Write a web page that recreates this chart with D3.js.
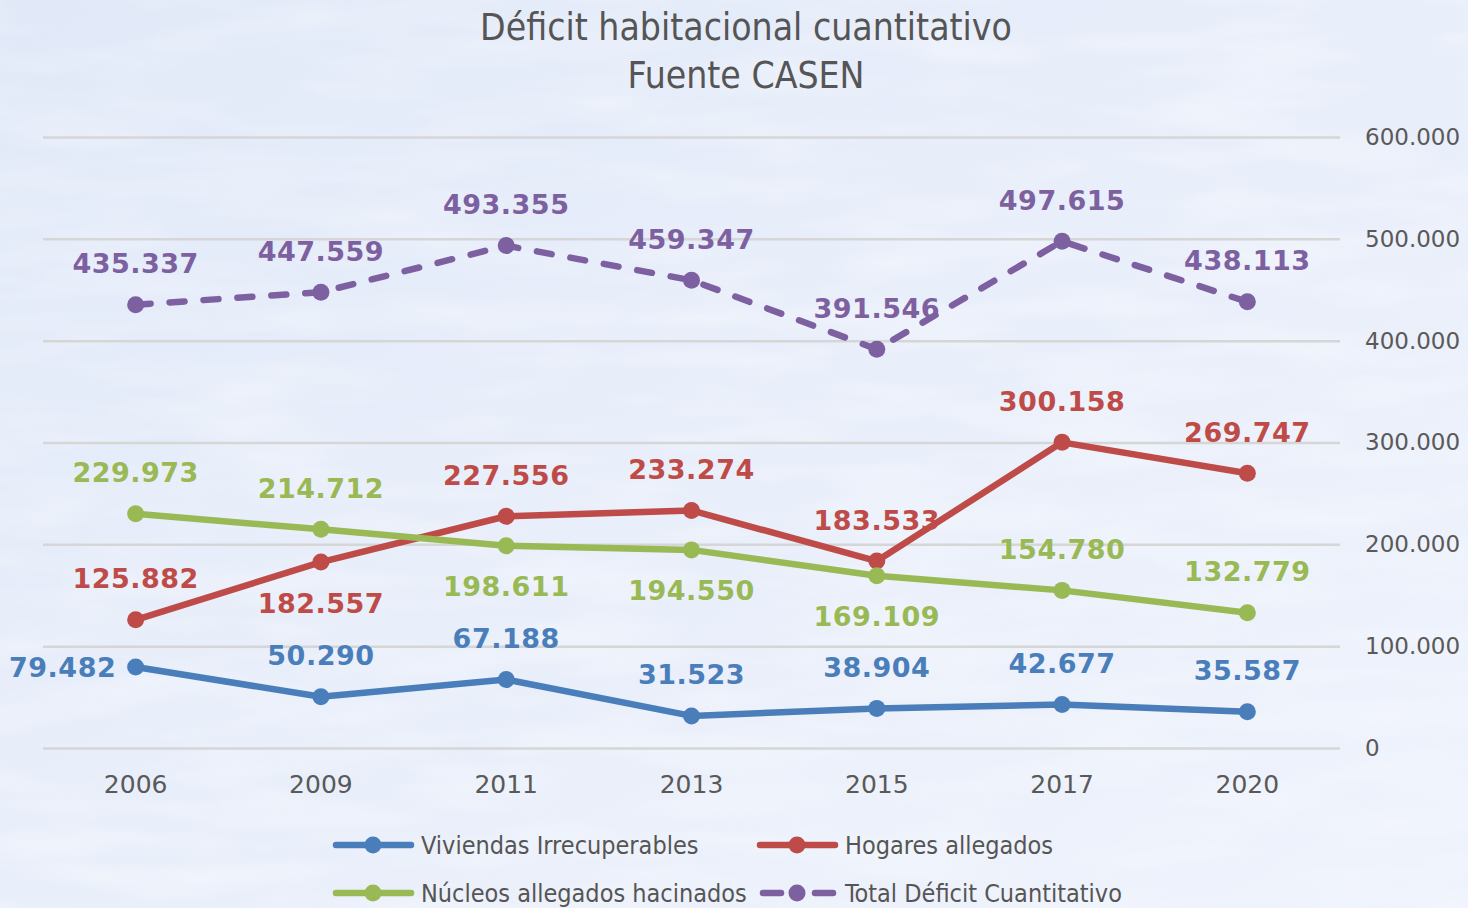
<!DOCTYPE html>
<html>
  <head>
    <meta charset="utf-8">
    <title>Déficit habitacional cuantitativo</title>
    <script src="https://d3js.org/d3.v7.min.js"></script>
    <style>
      html, body { margin: 0; padding: 0; background: #e8eefa; }
      svg { display: block; }
    </style>
  </head>
  <body>
    <div id="vis"></div>
    <script>
      const width = 1468;
      const height = 908;

      // data
      const years = ["2006", "2009", "2011", "2013", "2015", "2017", "2020"];
      const viviendas = [79482, 50290, 67188, 31523, 38904, 42677, 35587];
      const hogares = [125882, 182557, 227556, 233274, 183533, 300158, 269747];
      const nucleos = [229973, 214712, 198611, 194550, 169109, 154780, 132779];
      const total = [435337, 447559, 493355, 459347, 391546, 497615, 438113];
      const yTicks = [0, 100000, 200000, 300000, 400000, 500000, 600000];

      // label above (-1), below (+1) or left (0) of each point
      const hogaresPos = [-1, 1, -1, -1, -1, -1, -1];
      const nucleosPos = [-1, -1, 1, 1, 1, -1, -1];
      const viviendasPos = [0, -1, -1, -1, -1, -1, -1];
      const totalPos = [-1, -1, -1, -1, -1, -1, -1];

      const series = [
        {name: "Viviendas Irrecuperables", values: viviendas, pos: viviendasPos, color: "#4a7ebb", dashed: false},
        {name: "Hogares allegados", values: hogares, pos: hogaresPos, color: "#be4b48", dashed: false},
        {name: "Núcleos allegados hacinados", values: nucleos, pos: nucleosPos, color: "#98b954", dashed: false},
        {name: "Total Déficit Cuantitativo", values: total, pos: totalPos, color: "#7d60a0", dashed: true}
      ];

      const fmt = d3.formatLocale({decimal: ",", thousands: ".", grouping: [3], currency: ["$", ""]}).format(",d");
      const narrow = "'Liberation Sans Narrow', 'DejaVu Sans Condensed', 'Open Sans', sans-serif";

      let vis = d3.select("#vis")
                  .append("svg")
                  .attr("width", width)
                  .attr("height", height);

      // background wash
      const defs = vis.append("defs");
      const grad = defs.append("linearGradient").attr("id", "bg").attr("x1", 0).attr("y1", 0).attr("x2", 1).attr("y2", 1);
      grad.append("stop").attr("offset", "0%").attr("stop-color", "#e1e9f8");
      grad.append("stop").attr("offset", "45%").attr("stop-color", "#e8eefa");
      grad.append("stop").attr("offset", "100%").attr("stop-color", "#eff3fc");
      const noise = defs.append("filter").attr("id", "noise").attr("x", 0).attr("y", 0).attr("width", 1).attr("height", 1);
      noise.append("feTurbulence").attr("type", "fractalNoise").attr("baseFrequency", "0.006 0.03").attr("numOctaves", 3).attr("seed", 4);
      noise.append("feColorMatrix").attr("values", "0 0 0 0 1  0 0 0 0 1  0 0 0 0 1  0 0 0 1.2 -0.45");

      vis.append("rect").attr("width", width).attr("height", height).attr("fill", "url(#bg)");
      vis.append("rect").attr("width", width).attr("height", height).attr("fill", "#fff").attr("filter", "url(#noise)").attr("opacity", 0.5);

      // scales
      const x = d3.scaleBand().domain(years).range([43, 1340]).padding(0);
      const cx = d => x(d) + x.bandwidth() / 2;
      const y = d3.scaleLinear().domain([0, 600000]).range([748, 137]);

      // title
      vis.append("text")
         .attr("x", 746).attr("y", 40)
         .attr("text-anchor", "middle")
         .attr("font-family", narrow).attr("font-size", 37)
         .attr("fill", "#555555")
         .text("Déficit habitacional cuantitativo");
      vis.append("text")
         .attr("x", 746).attr("y", 88)
         .attr("text-anchor", "middle")
         .attr("font-family", narrow).attr("font-size", 37)
         .attr("fill", "#555555")
         .text("Fuente CASEN");

      // gridlines + right axis
      const yAxis = d3.axisRight(y).tickValues(yTicks).tickSize(1340 - 43).tickFormat(fmt);
      const gy = vis.append("g").attr("transform", "translate(43,0)").call(yAxis);
      gy.select(".domain").remove();
      gy.selectAll(".tick line").attr("stroke", "#d6d6d6").attr("stroke-width", 2.5);
      gy.selectAll(".tick text")
        .attr("x", 1365 - 43)
        .attr("font-family", "'DejaVu Sans', sans-serif")
        .attr("font-size", 23)
        .attr("fill", "#595959");

      // x axis labels
      const xAxis = d3.axisBottom(x).tickSize(0);
      const gx = vis.append("g").attr("transform", "translate(0,772)").call(xAxis);
      gx.select(".domain").remove();
      gx.selectAll(".tick text")
        .attr("font-family", "'DejaVu Sans', sans-serif")
        .attr("font-size", 25)
        .attr("fill", "#595959");

      // lines
      const line = d3.line().x((d, i) => cx(years[i])).y(d => y(d));

      series.forEach(s => {
        const g = vis.append("g");
        g.append("path")
         .datum(s.values)
         .attr("d", line)
         .attr("fill", "none")
         .attr("stroke", s.color)
         .attr("stroke-width", 6.5)
         .attr("stroke-linecap", "round")
         .attr("stroke-linejoin", "round")
         .attr("stroke-dasharray", s.dashed ? "15 19" : null);

        g.selectAll("circle")
         .data(s.values)
         .enter()
         .append("circle")
         .attr("cx", (d, i) => cx(years[i]))
         .attr("cy", d => y(d))
         .attr("r", 8.5)
         .attr("fill", s.color);
      });

      // data labels on top
      series.forEach(s => {
        vis.append("g")
           .selectAll("text")
           .data(s.values)
           .enter()
           .append("text")
           .attr("x", (d, i) => s.pos[i] === 0 ? cx(years[i]) - 73 : cx(years[i]))
           .attr("y", (d, i) => y(d) + (s.pos[i] === 0 ? 0 : s.pos[i] * 41))
           .attr("dy", "0.35em")
           .attr("text-anchor", "middle")
           .attr("font-family", "'DejaVu Sans', sans-serif")
           .attr("font-weight", "bold")
           .attr("font-size", 27)
           .attr("letter-spacing", 0.5)
           .attr("fill", s.color)
           .text(d => fmt(d));
      });

      // legend
      const legendPos = [[333, 845], [757, 845], [333, 893], [757, 893]];
      series.forEach((s, i) => {
        const [lx, ly] = legendPos[i];
        const g = vis.append("g").attr("transform", `translate(${lx},${ly})`);
        g.append("line")
         .attr("x1", s.dashed ? 6 : 3).attr("x2", s.dashed ? 76 : 78)
         .attr("y1", 0).attr("y2", 0)
         .attr("stroke", s.color)
         .attr("stroke-width", 6.5)
         .attr("stroke-linecap", "round")
         .attr("stroke-dasharray", s.dashed ? "18 34" : null);
        g.append("circle").attr("cx", 40).attr("cy", 0).attr("r", 8.5).attr("fill", s.color);
        g.append("text")
         .attr("x", 88).attr("y", 0)
         .attr("dy", "0.35em")
         .attr("font-family", narrow)
         .attr("font-size", 25)
         .attr("fill", "#555555")
         .text(s.name);
      });
    </script>
  </body>
</html>
